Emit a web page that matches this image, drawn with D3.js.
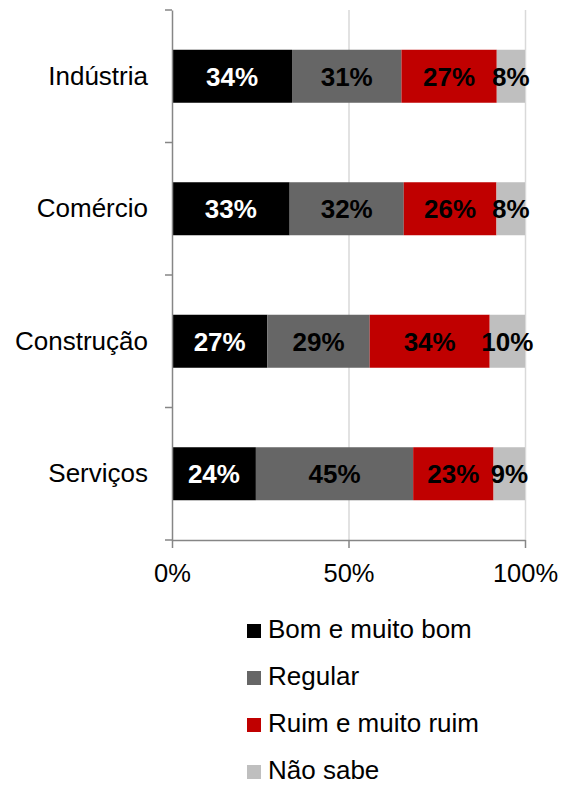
<!DOCTYPE html>
<html>
<head>
<meta charset="utf-8">
<script src="https://cdn.jsdelivr.net/npm/d3@7"></script>
<style>
  body { margin: 0; background: #fff; }
  svg text { font-family: "Liberation Sans", Arial, sans-serif; }
</style>
</head>
<body>
<div id="chart"></div>
<script>
const CATEGORIES = ["Indústria", "Comércio", "Construção", "Serviços"];
const SERIES = ["Bom e muito bom", "Regular", "Ruim e muito ruim", "Não sabe"];
const BOM = [34, 33, 27, 24];
const REGULAR = [31, 32, 29, 45];
const RUIM = [27, 26, 34, 23];
const NAO_SABE = [8, 8, 10, 9];
const X_TICKS = [0, 0.5, 1];

const COLORS = ["#000000", "#666666", "#C00000", "#BFBFBF"];
const LABEL_COLORS = ["#ffffff", "#000000", "#000000", "#000000"];

const WIDTH = 561;
const HEIGHT = 786;
const MARGIN = { TOP: 10, LEFT: 172, RIGHT: 36, BOTTOM: 246 };
const PLOT_W = WIDTH - MARGIN.LEFT - MARGIN.RIGHT;
const PLOT_H = HEIGHT - MARGIN.TOP - MARGIN.BOTTOM;

const ROWS = CATEGORIES.map((c, i) => ({
  category: c,
  [SERIES[0]]: BOM[i],
  [SERIES[1]]: REGULAR[i],
  [SERIES[2]]: RUIM[i],
  [SERIES[3]]: NAO_SABE[i]
}));

// rows don't always sum to 100, so expand to the full width like the original
const STACKED = d3.stack().keys(SERIES).offset(d3.stackOffsetExpand)(ROWS);

const svg = d3.select("#chart").append("svg")
  .attr("width", WIDTH)
  .attr("height", HEIGHT);

const chart = svg.append("g")
  .attr("transform", "translate(" + MARGIN.LEFT + "," + MARGIN.TOP + ")");

const X = d3.scaleLinear().domain([0, 1]).range([0, PLOT_W]);
const Y = d3.scaleBand().domain(CATEGORIES).range([0, PLOT_H]).paddingInner(0.6).paddingOuter(0.3);

// gridlines
chart.selectAll(".grid")
  .data(X_TICKS.slice(1))
  .enter()
  .append("line")
  .attr("x1", (d) => X(d) + 0.5)
  .attr("x2", (d) => X(d) + 0.5)
  .attr("y1", 0)
  .attr("y2", PLOT_H)
  .attr("stroke", "#D9D9D9")
  .attr("stroke-width", 1.5);

// bars
const layers = chart.selectAll(".layer")
  .data(STACKED)
  .enter()
  .append("g")
  .attr("fill", (d, i) => COLORS[i]);

layers.selectAll("rect")
  .data((d) => d)
  .enter()
  .append("rect")
  .attr("x", (d) => X(d[0]))
  .attr("width", (d) => X(d[1]) - X(d[0]))
  .attr("y", (d) => Y(d.data.category))
  .attr("height", Y.bandwidth());

// value labels
STACKED.forEach((layer, i) => {
  chart.selectAll(".lbl-" + i)
    .data(layer)
    .enter()
    .append("text")
    .attr("x", (d) => (X(d[0]) + X(d[1])) / 2)
    .attr("y", (d) => Y(d.data.category) + Y.bandwidth() / 2)
    .attr("dy", "0.36em")
    .attr("text-anchor", "middle")
    .attr("font-size", "26px")
    .attr("font-weight", "bold")
    .attr("fill", LABEL_COLORS[i])
    .text((d) => d.data[SERIES[i]] + "%");
});

// y axis
const yAxis = chart.append("g")
  .call(d3.axisLeft(Y).tickSize(0).tickPadding(24));
yAxis.select(".domain").attr("stroke", "#868686").attr("stroke-width", 1.5);
yAxis.selectAll("text").attr("font-size", "26px").attr("fill", "#000");

const boundaries = d3.range(CATEGORIES.length + 1).map((i) => i * PLOT_H / CATEGORIES.length);
chart.selectAll(".ytick")
  .data(boundaries)
  .enter()
  .append("line")
  .attr("x1", -7)
  .attr("x2", 0)
  .attr("y1", (d) => d)
  .attr("y2", (d) => d)
  .attr("stroke", "#868686")
  .attr("stroke-width", 1.5);

// x axis
const xAxis = chart.append("g")
  .attr("transform", "translate(0," + PLOT_H + ")")
  .call(d3.axisBottom(X).tickValues(X_TICKS).tickFormat(d3.format(".0%")).tickSize(8).tickSizeOuter(0).tickPadding(16));
xAxis.select(".domain").attr("stroke", "#868686").attr("stroke-width", 1.5);
xAxis.selectAll(".tick line").attr("stroke", "#868686").attr("stroke-width", 1.5);
xAxis.selectAll("text").attr("font-size", "25.5px").attr("fill", "#000");

// legend
const legend = svg.append("g").attr("transform", "translate(247,638)");
const items = legend.selectAll(".item")
  .data(SERIES)
  .enter()
  .append("g")
  .attr("transform", (d, i) => "translate(0," + i * 47 + ")");
items.append("rect")
  .attr("x", 0)
  .attr("y", -14)
  .attr("width", 14)
  .attr("height", 14)
  .attr("fill", (d, i) => COLORS[i]);
items.append("text")
  .attr("x", 21)
  .attr("y", 0)
  .attr("font-size", "26px")
  .attr("fill", "#000")
  .text((d) => d);
</script>
</body>
</html>
